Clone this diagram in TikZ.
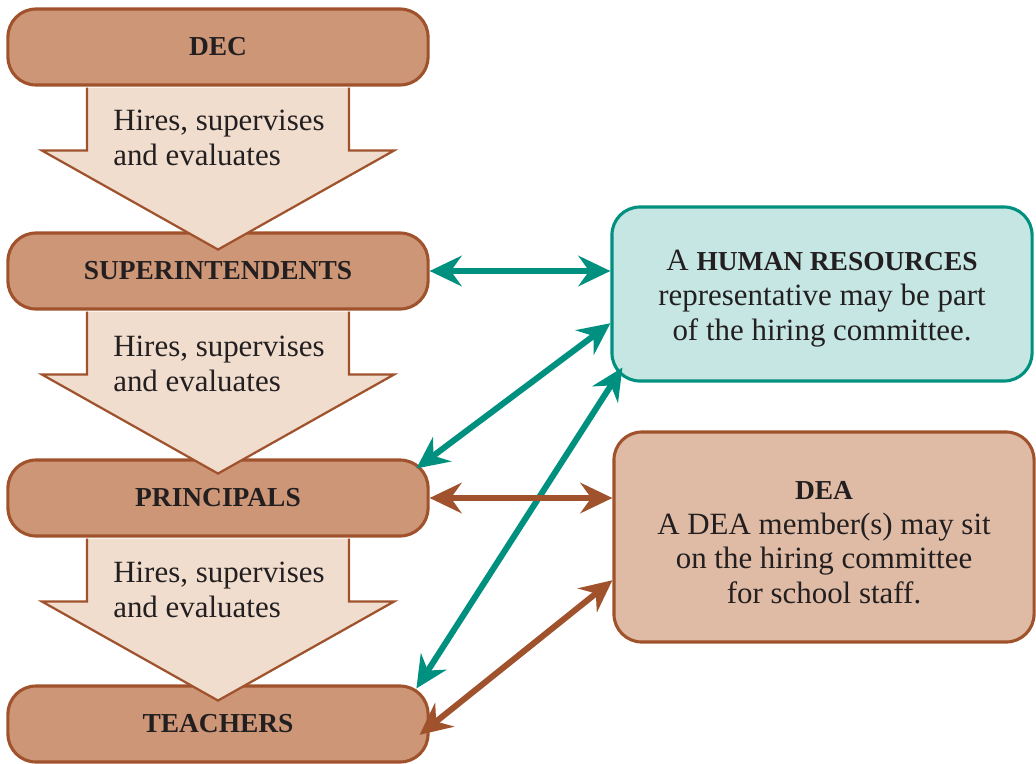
\documentclass[tikz,border=0pt]{standalone}
\usepackage{fontspec}
\setmainfont{Liberation Serif}
\usetikzlibrary{arrows.meta}

\definecolor{level fill}{RGB}{204,150,119}
\definecolor{level edge}{RGB}{160,82,45}
\definecolor{hire fill}{RGB}{240,221,206}
\definecolor{hr teal}{RGB}{0,144,128}
\definecolor{hr fill}{RGB}{197,230,226}
\definecolor{dea fill}{RGB}{223,187,165}
\definecolor{ink}{RGB}{35,31,32}
\def\px{0.025cm}
\def\bodyfont{\fontsize{22}{24.8}\selectfont}
\def\capsfont{\fontsize{19.5}{24.8}\selectfont\bfseries}
% pushes a centred block of lines a little further down
\def\topstrut{\rule{0pt}{21pt}}
\tikzset{
  level/.style={draw=level edge, fill=level fill, line width=2.2pt, rounded corners=0.7cm,
    minimum width=10.5cm, minimum height=1.9cm, font=\capsfont, text=ink},
  sidebox/.style={line width=2.2pt, rounded corners=0.7cm, minimum width=10.5cm,
    align=center, font=\bodyfont, text=ink},
  hire/.style={draw=level edge, fill=hire fill, line width=1.6pt, line join=miter},
  link/.style={line width=4.3pt, {Stealth[length=0.8cm,width=0.76cm,inset=0.27cm]}-{Stealth[length=0.8cm,width=0.76cm,inset=0.27cm]}}
  }
\tikzstyle{hirelabel}=[anchor=west, align=left, font=\bodyfont, text=ink, inner sep=0pt]
\tikzstyle{hrlink}=[link, draw=hr teal]
\tikzstyle{dealink}=[link, draw=level edge]

% down arrow hanging under a level box, open at the top
\newcommand{\hiredown}[1]{%
  \filldraw[hire] (#1.south) ++(-131,1) -- ++(0,63) -- ++(-45,0) -- ++(176,99)
    -- ++(176,-99) -- ++(-45,0) -- ++(0,-63);}

\begin{document}
\begin{tikzpicture}[x=\px, y=-\px]
  \useasboundingbox (0,0) rectangle (1036,763);

  \node[level] (dec)   at (218,47)  {DEC};
  \node[level] (supt)  at (218,271) {SUPERINTENDENTS};
  \node[level] (prin)  at (218,498) {PRINCIPALS};
  \node[level] (teach) at (218,724) {TEACHERS};

  % arrows go on top so their points overlap the next box
  \hiredown{dec}
  \hiredown{supt}
  \hiredown{prin}
  \node[hirelabel] (hire1) at (113,138) {Hires, supervises\\and evaluates};
  \node[hirelabel] (hire2) at (113,364) {Hires, supervises\\and evaluates};
  \node[hirelabel] (hire3) at (113,590) {Hires, supervises\\and evaluates};

  \node[sidebox, draw=hr teal, fill=hr fill, minimum height=4.35cm] (hr) at (822,294)
    {\topstrut A {\capsfont HUMAN RESOURCES}\\representative may be part\\of the hiring committee.};
  \node[sidebox, draw=level edge, fill=dea fill, minimum height=5.25cm] (dea) at (824,537)
    {\topstrut{\capsfont DEA}\\A DEA member(s) may sit\\on the hiring committee\\for school staff.};

  \draw[hrlink] (supt.east) -- (supt.east -| hr.west);
  \draw[hrlink] ([shift={(-0.33cm,-0.25cm)}]prin.north east) -- ([yshift=-0.73cm]hr.west);
  \draw[hrlink] ([shift={(-0.33cm,-0.1cm)}]teach.north east) -- ([shift={(0.3cm,0.375cm)}]hr.south west);
  \draw[dealink] (prin.east) -- (prin.east -| dea.west);
  \draw[dealink] ([shift={(-0.25cm,-0.27cm)}]teach.east) -- ([yshift=-1.08cm]dea.west);
\end{tikzpicture}
\end{document}
